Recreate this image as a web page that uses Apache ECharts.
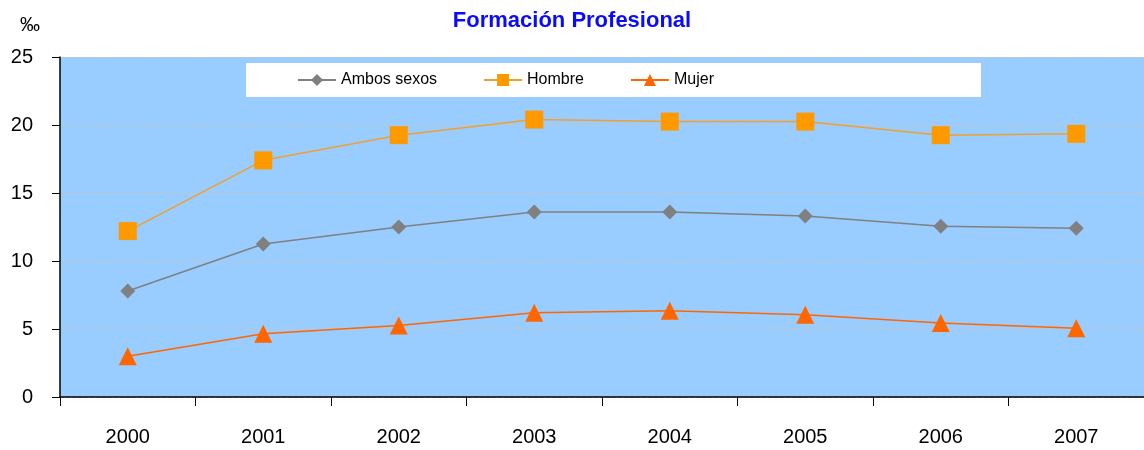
<!DOCTYPE html>
<html>
<head>
<meta charset="utf-8">
<script src="https://cdn.jsdelivr.net/npm/echarts@6/dist/echarts.min.js"></script>
<style>
  body { margin: 0; background: #fff; }
  #chart1 { width: 1144px; height: 450px; }
</style>
</head>
<body>
<div id="chart1"></div>
<script>
var years = ['2000', '2001', '2002', '2003', '2004', '2005', '2006', '2007'];
var ambos = [7.8, 11.25, 12.5, 13.6, 13.6, 13.3, 12.55, 12.4];
var hombre = [12.2, 17.4, 19.25, 20.4, 20.25, 20.25, 19.25, 19.35];
var mujer = [3.0, 4.65, 5.25, 6.2, 6.35, 6.05, 5.45, 5.05];

var myChart = echarts.init(document.getElementById('chart1'));
var font = 'Liberation Sans, Arial, sans-serif';

var option = {
    backgroundColor: '#fff',
    title: {
        text: 'Formación Profesional',
        left: 'center',
        top: 5,
        textStyle: { color: '#0a0aff', fontSize: 22, fontWeight: 'bold', fontFamily: font }
    },
    legend: {
        left: 246,
        top: 63,
        padding: [9, 267, 9, 51],
        backgroundColor: '#fff',
        itemWidth: 38,
        itemHeight: 15,
        itemGap: 46,
        textStyle: { fontSize: 16, color: '#000', fontFamily: font },
        data: ['Ambos sexos', 'Hombre', 'Mujer']
    },
    grid: { left: 60, right: 0, top: 57, bottom: 53, containLabel: false, show: true, backgroundColor: '#99ccff', borderWidth: 0 },
    xAxis: {
        type: 'category',
        data: years,
        boundaryGap: true,
        axisLine: { lineStyle: { color: '#000', width: 1.5 } },
        axisTick: { show: true, length: 9, lineStyle: { color: '#000' } },
        axisLabel: { color: '#000', fontSize: 20, margin: 30, fontFamily: font }
    },
    yAxis: {
        type: 'value',
        min: 0,
        max: 25,
        interval: 5,
        name: '‰',
        nameLocation: 'end',
        nameGap: 22,
        nameTextStyle: { color: '#000', fontSize: 20, align: 'right', padding: [0, 20, 0, 0], fontFamily: font },
        axisLine: { show: true, lineStyle: { color: '#000', width: 1.5 } },
        axisTick: { show: true, length: 8, lineStyle: { color: '#000' } },
        axisLabel: { color: '#000', fontSize: 20, margin: 27, fontFamily: font },
        splitLine: { show: true, lineStyle: { color: '#c4c4c4', type: 'dashed', width: 1 } }
    },
    series: [
        {
            name: 'Ambos sexos',
            type: 'line',
            data: ambos,
            symbol: 'diamond',
            symbolSize: 15,
            itemStyle: { color: '#808080' },
            lineStyle: { color: '#808080', width: 1.5 }
        },
        {
            name: 'Hombre',
            type: 'line',
            data: hombre,
            symbol: 'rect',
            symbolSize: 18,
            itemStyle: { color: '#ff9900' },
            lineStyle: { color: '#f0a030', width: 1.5 }
        },
        {
            name: 'Mujer',
            type: 'line',
            data: mujer,
            symbol: 'triangle',
            symbolSize: 18,
            itemStyle: { color: '#ff6600' },
            lineStyle: { color: '#ff6600', width: 1.5 }
        }
    ]
};

myChart.setOption(option);
</script>
</body>
</html>
